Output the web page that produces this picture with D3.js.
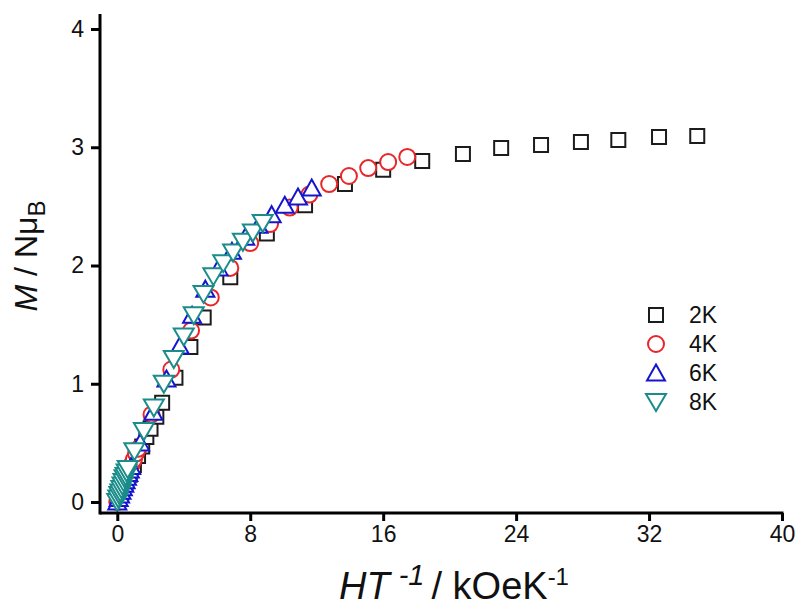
<!DOCTYPE html>
<html><head><meta charset="utf-8">
<script src="https://cdn.jsdelivr.net/npm/d3@7"></script>
<style>
body{margin:0;background:#fff;}
svg{display:block;font-family:Arial,"Liberation Sans",sans-serif;}
</style></head>
<body>
<svg id="chart" width="800" height="616"></svg>
<script>
// ---- data (x = H/T in kOe/K, M in N muB) ----
const x2K = [0,0.25,0.5,0.75,1.0,1.25,1.5,1.75,2.0,2.35,2.7,3.5,4.4,5.2,6.8,9.0,11.3,13.7,16.0,18.35,20.8,23.1,25.5,27.9,30.15,32.6,34.9];
const m2K = [0,0.08,0.16,0.23,0.31,0.39,0.47,0.55,0.62,0.72,0.84,1.05,1.31,1.56,1.90,2.27,2.51,2.69,2.81,2.884,2.943,2.994,3.019,3.044,3.061,3.087,3.095];

const x4K = [0,0.125,0.25,0.375,0.5,0.625,0.75,0.875,1.0,1.125,1.25,2.06,3.25,4.44,5.625,6.8,8.0,9.19,10.375,11.56,12.75,13.94,15.1,16.3,17.45];
const m4K = [0,0.05,0.09,0.14,0.18,0.23,0.27,0.32,0.36,0.41,0.45,0.74,1.12,1.45,1.73,1.98,2.19,2.35,2.49,2.60,2.689,2.757,2.824,2.875,2.918];

const x6K = [0,0.083,0.167,0.25,0.333,0.417,0.5,0.583,0.667,0.75,0.833,1.375,2.17,2.96,3.75,4.5,5.3,6.1,6.9,7.7,8.5,9.29,10.08,10.875,11.7];
const m6K = [0,0.03,0.06,0.09,0.12,0.15,0.18,0.21,0.24,0.27,0.30,0.50,0.76,1.04,1.32,1.58,1.80,1.98,2.12,2.24,2.34,2.43,2.51,2.58,2.655];

const x8K = [0,0.0625,0.125,0.1875,0.25,0.3125,0.375,0.4375,0.5,0.5625,0.625,1.03,1.6,2.2,2.8,3.4,4.0,4.6,5.19,5.78,6.375,6.97,7.56,8.16,8.75];
const m8K = [0,0.03,0.06,0.08,0.11,0.14,0.17,0.20,0.22,0.25,0.28,0.43,0.60,0.80,1.00,1.21,1.40,1.58,1.76,1.91,2.02,2.11,2.20,2.28,2.36];

const seriesNames = ["2K","4K","6K","8K"];
const xTicks = [0,8,16,24,32,40];
const yTicks = [0,1,2,3,4];

const seriesX = [x2K,x4K,x6K,x8K];
const seriesM = [m2K,m4K,m6K,m8K];
const colors = ["#1c1c1c","#e8262a","#1515d0","#1a8c8a"];
const shapes = ["square","circle","up","down"];

// ---- layout ----
const svg = d3.select("#chart");
const x = d3.scaleLinear().domain([-1.04,40]).range([100,782]);
const y = d3.scaleLinear().domain([-0.093,4.127]).range([513,14]);

function shapePath(s){
  if(s==="square") return "M-7,-7H7V7H-7Z";
  if(s==="circle") return d3.arc()({innerRadius:0,outerRadius:8,startAngle:0,endAngle:2*Math.PI});
  if(s==="up") return "M0,-8.5L9,7.5L-9,7.5Z";
  return "M-10,-8L10,-8L0,9Z";
}

// markers
seriesNames.forEach((name,i)=>{
  const data = seriesX[i].map((v,j)=>({x:v,m:seriesM[i][j]}));
  svg.append("g").selectAll("path").data(data).join("path")
    .attr("d", shapePath(shapes[i]))
    .attr("transform", d=>`translate(${x(d.x)},${y(d.m)})`)
    .attr("fill","#fff")
    .attr("stroke", colors[i])
    .attr("stroke-width", 2);
});

// axes
const xAxis = svg.append("g").attr("transform","translate(0,513)")
  .call(d3.axisBottom(x).tickValues(xTicks).tickFormat(d3.format("d")).tickSize(8).tickPadding(5).tickSizeOuter(0));
const yAxis = svg.append("g").attr("transform","translate(100,0)")
  .call(d3.axisLeft(y).tickValues(yTicks).tickFormat(d3.format("d")).tickSize(9).tickPadding(7).tickSizeOuter(0));
[xAxis,yAxis].forEach(a=>{
  a.attr("font-size",23).attr("font-family","Arial,'Liberation Sans',sans-serif");
  a.select(".domain").attr("stroke","#000").attr("stroke-width",3);
  a.selectAll(".tick line").attr("stroke","#000").attr("stroke-width",3);
  a.selectAll(".tick text").attr("fill","#111");
});
xAxis.select(".domain").attr("d","M100,0H783.5");
yAxis.select(".domain").attr("d","M0,14V514.5");

// legend
const lg = svg.append("g");
seriesNames.forEach((name,i)=>{
  const cy = 315 + i*29;
  lg.append("path").attr("d",shapePath(shapes[i]))
    .attr("transform",`translate(656,${cy})`)
    .attr("fill","#fff").attr("stroke",colors[i]).attr("stroke-width",2);
  lg.append("text").attr("x",689).attr("y",cy+8).attr("font-size",23).attr("fill","#111").text(name);
});

// y title
const yt = svg.append("text").attr("transform","translate(37,256) rotate(-90)")
  .attr("text-anchor","middle").attr("font-size",32).attr("fill","#111");
yt.append("tspan").attr("font-style","italic").text("M");
yt.append("tspan").text(" / N");
yt.append("tspan").text("\u03bc");
yt.append("tspan").attr("font-size",24).attr("dy",8).text("B");

// x title
const xt = svg.append("text").attr("x",454).attr("y",599)
  .attr("text-anchor","middle").attr("font-size",38).attr("fill","#111");
xt.append("tspan").attr("font-style","italic").text("HT");
xt.append("tspan").attr("font-style","italic").attr("font-size",29).attr("dy",-14).attr("dx",9).text("-1");
xt.append("tspan").attr("dy",14).attr("dx",7).text("/ kOeK");
xt.append("tspan").attr("font-size",24).attr("dy",-14).text("-1");
</script>
</body></html>
